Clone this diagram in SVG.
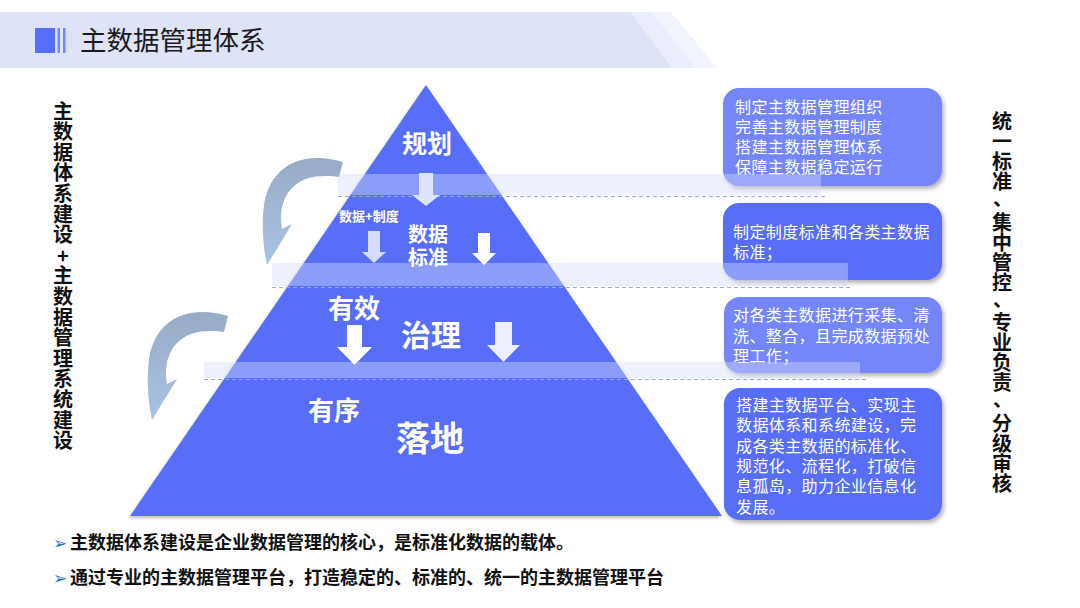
<svg xmlns="http://www.w3.org/2000/svg" width="1080" height="608" viewBox="0 0 1080 608">
  <defs>
    <style>
      .cjk { font-family: "Noto Sans CJK SC", "Noto Sans", sans-serif; }
      .title { font-size: 26.5px; fill: #1a1a1a; }
      .vtext { font-size: 20px; font-weight: bold; fill: #111; writing-mode: vertical-rl; text-orientation: upright; }
      .pyr { fill: #ffffff; font-weight: bold; text-anchor: middle; }
      .box-text { font-size: 16px; fill: #ffffff; letter-spacing: 0.4px; }
      .bottom { font-size: 18px; font-weight: bold; fill: #111; }
      .bullet { font-family: "DejaVu Sans", sans-serif; font-size: 17px; fill: #2e6fd0; }
      .band { fill: #d5dcfa; opacity: 0.42; }
      .dash { stroke: #93a8d2; stroke-width: 1; stroke-dasharray: 4 3; fill: none; }
      .box-light { fill: #7486fa; }
      .box-dark { fill: #596ef8; }
    </style>
    <filter id="shadow" x="-10%" y="-10%" width="125%" height="130%">
      <feDropShadow dx="2" dy="3" stdDeviation="2" flood-color="#000" flood-opacity="0.3"/>
    </filter>
    <filter id="pshadow" x="-5%" y="-5%" width="110%" height="110%">
      <feDropShadow dx="-1" dy="2" stdDeviation="1.5" flood-color="#000" flood-opacity="0.25"/>
    </filter>
    <linearGradient id="curveGrad" x1="0" y1="0" x2="0" y2="1">
      <stop offset="0" stop-color="#98abc6"/>
      <stop offset="1" stop-color="#aac3e4"/>
    </linearGradient>
  </defs>

  <rect width="1080" height="608" fill="#ffffff"/>

  <!-- header -->
  <g id="header">
    <polygon points="0,12 631,12 673,68 0,68" fill="#dfe3f8"/>
    <polygon points="631,12 652,12 696,68 673,68" fill="#eaedfb"/>
    <polygon points="652,12 671,12 717,68 696,68" fill="#f2f4fd"/>
    <rect x="35" y="28" width="20" height="25" fill="#596ef8"/>
    <rect x="57.5" y="28" width="2.5" height="25" fill="#7486fa"/>
    <rect x="63" y="28" width="2.5" height="25" fill="#7486fa"/>
    <text class="cjk title" x="80" y="50">主数据管理体系</text>
  </g>

  <!-- left vertical text -->
  <g id="left-label">
    <text class="cjk vtext" x="63" y="101" letter-spacing="0.6">主数据体系建设+主数据管理系统建设</text>
  </g>

  <!-- right vertical text -->
  <g id="right-label">
    <text class="cjk vtext" x="1002" y="111" letter-spacing="0.1">统一标准<tspan dx="-11" dy="9">、</tspan><tspan dx="11" dy="-9">集中管控</tspan><tspan dx="-11" dy="9">、</tspan><tspan dx="11" dy="-9">专业负责</tspan><tspan dx="-11" dy="9">、</tspan><tspan dx="11" dy="-9">分级审核</tspan></text>
  </g>

  <!-- pyramid -->
  <g id="pyramid">
    <polygon points="426,85 722,516 130,516" fill="#596ef8" filter="url(#pshadow)"/>
  </g>

  <!-- right boxes -->
  <g id="box-1">
    <rect x="723" y="88" width="219" height="98" rx="16" class="box-light" filter="url(#shadow)"/>
    <text class="cjk box-text">
      <tspan x="735" y="113">制定主数据管理组织</tspan>
      <tspan x="735" y="133">完善主数据管理制度</tspan>
      <tspan x="735" y="153">搭建主数据管理体系</tspan>
      <tspan x="735" y="173">保障主数据稳定运行</tspan>
    </text>
  </g>
  <g id="box-2">
    <rect x="723" y="203" width="219" height="77" rx="16" class="box-dark" filter="url(#shadow)"/>
    <text class="cjk box-text">
      <tspan x="733" y="238">制定制度标准和各类主数据</tspan>
      <tspan x="733" y="258">标准；</tspan>
    </text>
  </g>
  <g id="box-3">
    <rect x="724" y="297" width="218" height="76" rx="16" class="box-light" filter="url(#shadow)"/>
    <text class="cjk box-text">
      <tspan x="733" y="321">对各类主数据进行采集、清</tspan>
      <tspan x="733" y="342">洗、整合，且完成数据预处</tspan>
      <tspan x="733" y="362">理工作；</tspan>
    </text>
  </g>
  <g id="box-4">
    <rect x="724" y="388" width="218" height="132" rx="16" class="box-dark" filter="url(#shadow)"/>
    <text class="cjk box-text">
      <tspan x="736" y="411">搭建主数据平台、实现主</tspan>
      <tspan x="736" y="431.3">数据体系和系统建设，完</tspan>
      <tspan x="736" y="451.6">成各类主数据的标准化、</tspan>
      <tspan x="736" y="471.9">规范化、流程化，打破信</tspan>
      <tspan x="736" y="492.2">息孤岛，助力企业信息化</tspan>
      <tspan x="736" y="512.5">发展。</tspan>
    </text>
  </g>

  <!-- bands and dividers -->
  <g id="bands">
    <rect x="338" y="174" width="483" height="21" class="band"/>
    <rect x="272" y="263" width="576" height="23" class="band"/>
    <rect x="204" y="362" width="656" height="16" class="band"/>
    <line x1="338" y1="196.5" x2="827" y2="196.5" class="dash"/>
    <line x1="272" y1="287.5" x2="852" y2="287.5" class="dash"/>
    <line x1="204" y1="379.5" x2="867" y2="379.5" class="dash"/>
  </g>

  <!-- connectors: arrows -->
  <g id="connectors">
    <path d="M343,162 C302,150 270,166 264,205 C261,230 264,250 267,265 L292,224 L282,229 C278,205 287,186 306,179 C318,175 330,176 339,177 Z" fill="url(#curveGrad)"/>
    <path d="M228,316 C187,304 155,320 149,359 C146,384 149,405 152,420 L177,379 L167,384 C163,360 172,341 191,334 C203,330 215,331 224,332 Z" fill="url(#curveGrad)"/>
    <path d="M419,173 H433 V195 H440 L426,206 L412,195 H419 Z" fill="#dde2fb"/>
    <path d="M368,231 H380 V252 H386 L374,263 L362,252 H368 Z" fill="#d5dbfb"/>
    <path d="M478,233 H490 V253 H496 L484,265 L472,253 H478 Z" fill="#ffffff"/>
    <path d="M347,325 H362 V347 H372 L354.5,365 L337,347 H347 Z" fill="#ffffff"/>
    <path d="M495,322 H512 V345 H520 L503.5,362 L487,345 H495 Z" fill="#eceffd"/>
  </g>

  <!-- pyramid labels -->
  <g id="pyramid-labels">
    <text class="cjk pyr" x="427" y="153" font-size="25">规划</text>
    <text class="cjk" x="339" y="221" font-size="13" font-weight="bold" fill="#ffffff">数据+制度</text>
    <text class="cjk pyr" x="428" y="242" font-size="20">数据</text>
    <text class="cjk pyr" x="428" y="265" font-size="20">标准</text>
    <text class="cjk pyr" x="354" y="318" font-size="26">有效</text>
    <text class="cjk pyr" x="431" y="346" font-size="30">治理</text>
    <text class="cjk pyr" x="334" y="420" font-size="26">有序</text>
    <text class="cjk pyr" x="430" y="451" font-size="34">落地</text>
  </g>

  <!-- bottom notes -->
  <g id="notes">
    <text class="bullet" x="53" y="549">➢</text>
    <text class="cjk bottom" x="70" y="549">主数据体系建设是企业数据管理的核心，是标准化数据的载体。</text>
    <text class="bullet" x="53" y="584">➢</text>
    <text class="cjk bottom" x="70" y="584">通过专业的主数据管理平台，打造稳定的、标准的、统一的主数据管理平台</text>
  </g>
</svg>
